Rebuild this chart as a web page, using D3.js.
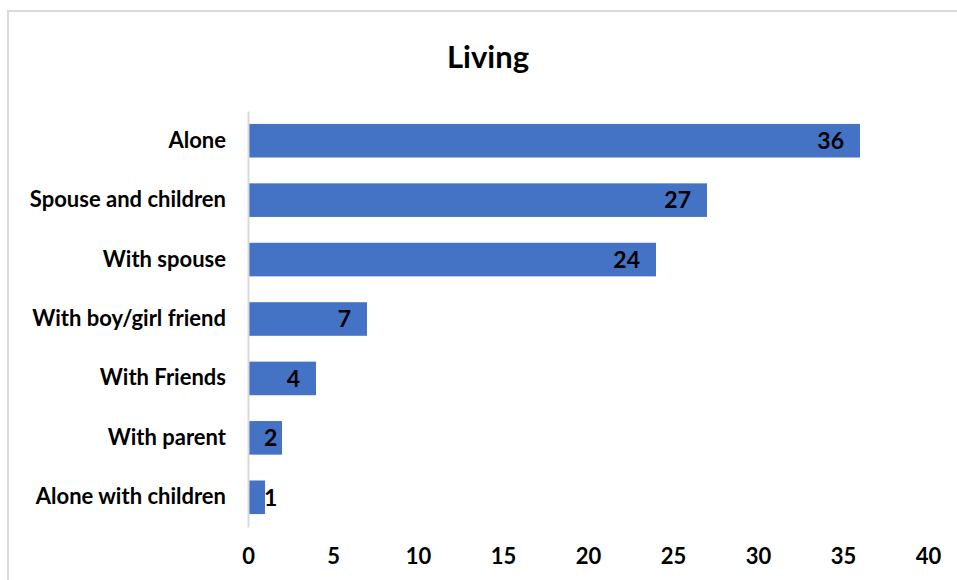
<!DOCTYPE html>
<meta charset="utf-8">
<style>
  body { margin: 0; background: #fff; }
  text { font-family: Lato, "Liberation Sans", Arial, sans-serif; font-weight: bold; fill: #000; }
</style>
<body>
<div id="chart"></div>
<script src="https://d3js.org/d3.v7.min.js"></script>
<script>
// data
var categories = ["Alone", "Spouse and children", "With spouse", "With boy/girl friend",
                  "With Friends", "With parent", "Alone with children"];
var values = [36, 27, 24, 7, 4, 2, 1];
var xTicks = [0, 5, 10, 15, 20, 25, 30, 35, 40];

var W = 957, H = 580;
var margin = {top: 111, left: 248, right: 29, bottom: 53};
var width = W - margin.left - margin.right,
    height = H - margin.top - margin.bottom;

var svg = d3.select("#chart").append("svg")
    .attr("width", W)
    .attr("height", H);

// chart frame
svg.append("rect")
    .attr("x", 8).attr("y", 11)
    .attr("width", W + 10).attr("height", H + 10)
    .attr("fill", "none")
    .attr("stroke", "#d9d9d9")
    .attr("stroke-width", 2);

svg.append("text")
    .attr("x", 488).attr("y", 68)
    .attr("text-anchor", "middle")
    .style("font-size", "31px")
    .text("Living");

var g = svg.append("g")
    .attr("transform", "translate(" + margin.left + "," + margin.top + ")");

var x = d3.scaleLinear().domain([0, 40]).range([0, width]);
var y = d3.scaleBand().domain(categories).range([0, height]).paddingInner(0.435).paddingOuter(0.2175);

var data = categories.map(function(c, i) { return {cat: c, value: values[i]}; });

g.selectAll("rect.bar")
    .data(data)
  .enter().append("rect")
    .attr("class", "bar")
    .attr("x", x(0))
    .attr("y", function(d) { return y(d.cat); })
    .attr("width", function(d) { return x(d.value) - x(0); })
    .attr("height", y.bandwidth())
    .attr("fill", "#4472c4");

// value labels: inside end, but never closer than 16px to the axis
g.selectAll("text.val")
    .data(data)
  .enter().append("text")
    .attr("class", "val")
    .attr("y", function(d) { return y(d.cat) + y.bandwidth() / 2; })
    .attr("dy", "0.36em")
    .attr("text-anchor", "end")
    .style("font-size", "23px")
    .text(function(d) { return d.value; })
    .attr("x", function(d) {
      var w = this.getComputedTextLength();
      return Math.max(x(d.value) - 16, x(0) + 16 + w);
    });

// y axis
var yAxis = g.append("g").call(d3.axisLeft(y).tickSize(0).tickPadding(22));
yAxis.select(".domain").attr("stroke", "#d9d9d9").attr("stroke-width", 2);
yAxis.selectAll("text").style("font-size", "22px").attr("font-family", null);

// x axis (labels only)
var xAxis = g.append("g")
    .attr("transform", "translate(0," + height + ")")
    .call(d3.axisBottom(x).tickValues(xTicks).tickSize(0).tickPadding(21));
xAxis.select(".domain").remove();
xAxis.selectAll("text").style("font-size", "22px").attr("font-family", null);
</script>
</body>
